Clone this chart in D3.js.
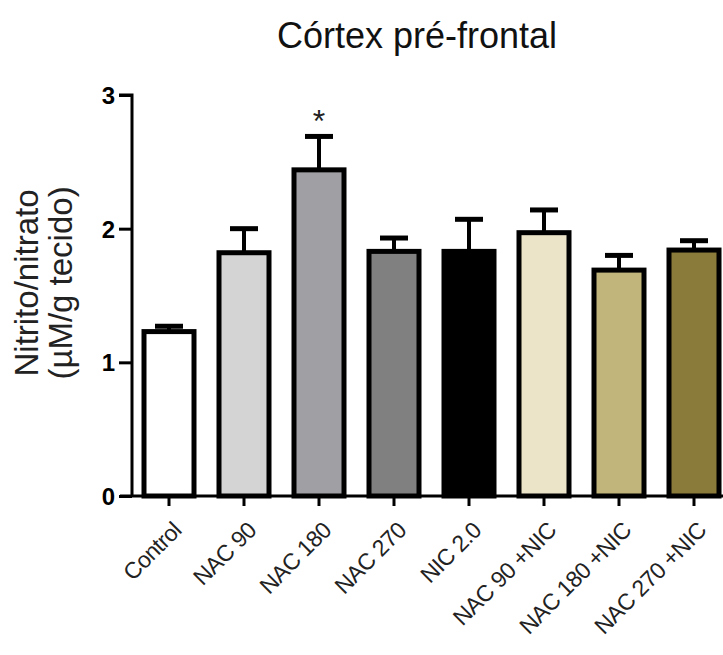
<!DOCTYPE html>
<html>
<head>
<meta charset="utf-8">
<script src="https://cdn.jsdelivr.net/npm/d3@7"></script>
<style>
  body { margin: 0; background: #fff; }
  svg { display: block; font-family: "Liberation Sans", Arial, sans-serif; }
</style>
</head>
<body>
<div id="chart"></div>
<script>
// groups, means and upper SEM
var groups = ["Control", "NAC 90", "NAC 180", "NAC 270", "NIC 2.0", "NAC 90 +NIC", "NAC 180 +NIC", "NAC 270 +NIC"];
var means = [1.23, 1.82, 2.44, 1.83, 1.83, 1.97, 1.69, 1.84];
var errors = [0.04, 0.18, 0.25, 0.10, 0.24, 0.17, 0.11, 0.07];
var fills = ["#ffffff", "#d4d4d4", "#a0a0a4", "#808080", "#000000", "#ece4c9", "#c2b57b", "#8b7b3a"];
var marks = ["", "", "*", "", "", "", "", ""];
var yTicks = [0, 1, 2, 3];

var width = 723, height = 655;

var svg = d3.select("#chart").append("svg")
    .attr("width", width)
    .attr("height", height);

var x = d3.scaleBand()
    .domain(groups)
    .range([132, 731])
    .paddingInner(1 / 3)
    .paddingOuter(0.16);

var y = d3.scaleLinear()
    .domain([0, 3])
    .range([496, 95]);

var data = groups.map(function(g, i) {
    return {name: g, mean: means[i], err: errors[i], fill: fills[i], mark: marks[i]};
});

// title
svg.append("text")
    .attr("x", 417)
    .attr("y", 48)
    .attr("text-anchor", "middle")
    .style("font-size", "36px")
    .style("fill", "#111")
    .text("Córtex pré-frontal");

// y label, two lines
var yl = svg.append("text")
    .attr("transform", "translate(0,283) rotate(-90)")
    .attr("text-anchor", "middle")
    .style("font-size", "33px")
    .style("fill", "#222");
yl.append("tspan").attr("x", 0).attr("y", 38).text("Nitrito/nitrato");
yl.append("tspan").attr("x", 0).attr("y", 72).text("(\u00b5M/g tecido)");

// error bars (upper only), drawn first so the bar covers the stem
var eb = svg.append("g").attr("class", "errbars");
data.forEach(function(d) {
    var cx = x(d.name) + x.bandwidth() / 2;
    eb.append("line")
        .attr("x1", cx).attr("x2", cx)
        .attr("y1", y(d.mean)).attr("y2", y(d.mean + d.err))
        .attr("stroke", "#000").attr("stroke-width", 4);
    eb.append("line")
        .attr("x1", cx - 14).attr("x2", cx + 14)
        .attr("y1", y(d.mean + d.err)).attr("y2", y(d.mean + d.err))
        .attr("stroke", "#000").attr("stroke-width", 5);
});

svg.append("g").selectAll("rect")
    .data(data)
    .enter()
    .append("rect")
    .attr("x", function(d) { return x(d.name); })
    .attr("y", function(d) { return y(d.mean); })
    .attr("width", x.bandwidth())
    .attr("height", function(d) { return y(0) - y(d.mean); })
    .attr("fill", function(d) { return d.fill; })
    .attr("stroke", "#000")
    .attr("stroke-width", 5);

// significance mark
svg.append("g").selectAll("text")
    .data(data.filter(function(d) { return d.mark; }))
    .enter()
    .append("text")
    .attr("x", function(d) { return x(d.name) + x.bandwidth() / 2; })
    .attr("y", function(d) { return y(d.mean + d.err) - 4; })
    .attr("text-anchor", "middle")
    .style("font-size", "32px")
    .style("fill", "#222")
    .text(function(d) { return d.mark; });

// y axis
var yAxis = svg.append("g")
    .attr("transform", "translate(132,0)")
    .call(d3.axisLeft(y).tickValues(yTicks).tickFormat(d3.format("d")).tickSize(13).tickPadding(4));
yAxis.select(".domain").attr("stroke-width", 3).attr("d", "M-13," + y(3) + "H0V" + y(0));
yAxis.selectAll(".tick line").attr("stroke-width", 3);
yAxis.selectAll(".tick text")
    .style("font-size", "24px")
    .style("font-weight", "bold")
    .style("font-family", "'Liberation Sans', Arial, sans-serif")
    .attr("dy", "0.35em");

// x axis
var xAxis = svg.append("g")
    .attr("transform", "translate(0," + y(0) + ")")
    .call(d3.axisBottom(x).tickSize(10).tickSizeOuter(0));
xAxis.select(".domain").attr("stroke-width", 3).attr("d", "M120,0H" + width);
xAxis.selectAll(".tick line").attr("stroke-width", 3);
xAxis.selectAll(".tick text")
    .style("font-size", "23px")
    .style("font-family", "'Liberation Sans', Arial, sans-serif")
    .style("letter-spacing", "-0.5px")
    .style("fill", "#222")
    .attr("text-anchor", "end")
    .attr("transform", "translate(8,30) rotate(-45)")
    .attr("dy", "0.35em")
    .attr("y", 0)
    .attr("x", 0);
</script>
</body>
</html>
